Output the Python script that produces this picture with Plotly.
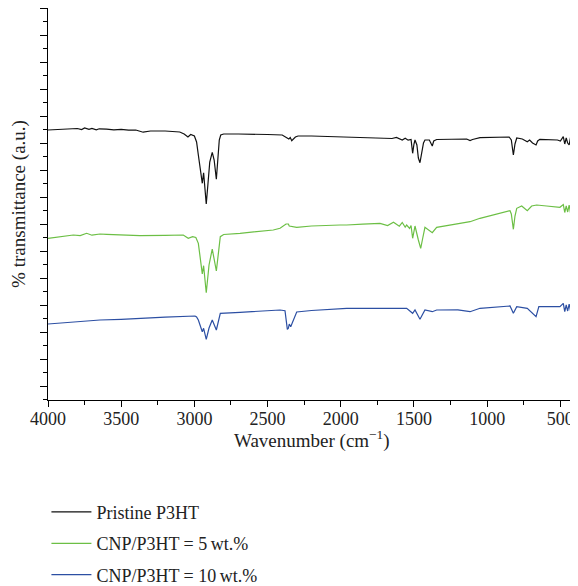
import plotly.graph_objects as go

# Wavenumber (cm^-1) and transmittance (a.u., offset traces)
pristine_wn = [4000, 3950, 3900, 3850, 3800, 3770, 3750, 3720, 3700, 3670, 3650, 3600, 3550, 3500, 3450,
               3400, 3350, 3300, 3200, 3100, 3070, 3044, 3025, 3000, 2985, 2973, 2955, 2946, 2937,
               2928, 2919, 2908, 2895, 2878, 2865, 2850, 2840, 2830, 2820, 2800, 2700, 2600, 2500,
               2400, 2367, 2355, 2345, 2335, 2310, 2292, 2200, 2100, 2000, 1900, 1800, 1700, 1650,
               1620, 1600, 1580, 1560, 1540, 1520, 1509, 1500, 1493, 1480, 1470, 1459, 1448, 1435,
               1425, 1395, 1375, 1365, 1345, 1200, 1140, 1117, 1100, 1049, 1000, 900, 850, 835,
               821, 810, 798, 760, 740, 726, 710, 690, 666, 655, 640, 550, 520, 500, 480, 470,
               460, 450, 440, 430, 420, 410, 400]
pristine_t = [270, 270.3, 270.8, 271.2, 271.5, 270.4, 272, 270.6, 271.6, 270.2, 271.2, 270.8, 270.2, 270.6, 269.8,
              270, 267.8, 269, 269, 268, 266, 263, 265.5, 264, 258, 245, 225, 216.7, 227.3,
              210, 196, 215, 238, 247.7, 240, 220.7, 240, 260, 265, 266, 266, 266, 265.5,
              265, 262, 261, 262.5, 259.3, 263, 264, 264, 263.5, 263.3, 262.5, 262, 261.7, 261.5,
              262.5, 261.5, 260, 261.8, 259.8, 260.5, 246.7, 256, 260, 255, 242, 237.3, 245, 257,
              260, 260, 254, 259, 260.5, 261, 261, 259.5, 260.5, 262.3, 262.5, 263, 263, 260,
              245, 256, 262, 261, 259.5, 258.3, 260, 257, 255, 259, 260.7, 260.7, 260, 259, 263.3, 256,
              262, 257, 255, 263, 256, 261, 259]

cnp5_wn = [4000, 3950, 3900, 3827, 3780, 3736, 3700, 3645, 3600, 3500, 3372, 3200, 3076, 3042, 3012,
           2990, 2973, 2946, 2937, 2919, 2900, 2878, 2850, 2823, 2800, 2688, 2461, 2415, 2374,
           2358, 2352, 2301, 2200, 2005, 1960, 1850, 1732, 1680, 1640, 1600, 1580, 1560, 1550,
           1530, 1520, 1509, 1493, 1470, 1454, 1440, 1425, 1375, 1345, 1186, 1117, 1049, 935,
           844, 835, 821, 810, 798, 764, 726, 696, 662, 594, 503, 480, 470, 460, 450, 440,
           430, 420, 410, 400]
cnp5_t = [161.7, 162.8, 163.8, 165, 164.4, 166.7, 164.8, 166, 165.6, 164.8, 164.3, 164.6, 165, 161.7, 163.3,
          162.5, 156.7, 126, 134.3, 107.3, 135, 151, 129, 163.3, 165.5, 166.7, 170, 171.7, 176,
          176, 174, 172.7, 174, 175, 175, 175.8, 176.7, 174.5, 177.8, 173.8, 177.5, 172.8, 175,
          171.6, 174.5, 161.7, 174, 160, 151.7, 162, 172.7, 167.3, 172.7, 176.7, 178.3, 181.7, 186,
          189.3, 186, 170.7, 184, 191.7, 194, 189.3, 194, 195, 194, 192.7, 195.5, 187.5, 194,
          188, 195, 186.5, 192, 188.3, 190]

cnp10_wn = [4000, 3900, 3827, 3750, 3645, 3500, 3372, 3200, 2996, 2985, 2973, 2946, 2937, 2919, 2900,
            2878, 2850, 2823, 2688, 2415, 2381, 2365, 2358, 2352, 2342, 2301, 2200, 2005, 1960,
            1750, 1550, 1509, 1493, 1459, 1425, 1375, 1345, 1200, 1117, 1049, 900, 844, 821,
            798, 726, 666, 647, 503, 480, 470, 460, 450, 440, 430, 420, 410, 400]
cnp10_t = [76, 77.2, 78.3, 79.2, 80, 80.6, 81.7, 82.8, 84, 83, 80, 68.3, 71.7, 60.7, 72,
           80, 70, 86.7, 87.7, 90, 89.3, 70.7, 71.7, 76, 73.3, 88, 89.5, 91, 91.7,
           91.7, 91.7, 86.7, 90, 80.7, 90, 88.3, 90, 90.2, 88.3, 91.7, 93.2, 94, 86.7,
           93.3, 91.7, 83.3, 93.3, 93.3, 96.7, 88.3, 95, 89, 96, 88.8, 94.5, 90, 91.7]

names = ["Pristine P3HT", "CNP/P3HT = 5\u2009wt.%", "CNP/P3HT = 10\u2009wt.%"]
colors = ["#111111", "#6cbf45", "#2c4fa3"]
series = [(pristine_wn, pristine_t), (cnp5_wn, cnp5_t), (cnp10_wn, cnp10_t)]

x_ticks = [4000, 3500, 3000, 2500, 2000, 1500, 1000, 500]
x_title = "Wavenumber (cm<sup>\u22121</sup>)"
y_title = "% transmittance (a.u.)"

FONT = "Liberation Serif"
TXT = "#222222"

fig = go.Figure()
for i, ((wn, t), name, col) in enumerate(zip(series, names, colors)):
    fig.add_trace(go.Scatter(x=wn, y=t, mode="lines", name=name, legendgroup=f"g{i}",
                             line=dict(color=col, width=1.2)))

# The page body adds an 8 px offset, so the figure is 8 px smaller than the window.
fig.update_layout(
    width=570, height=578,
    margin=dict(l=40, r=3, t=0, b=186, autoexpand=False),
    plot_bgcolor="white", paper_bgcolor="white",
    font=dict(family=FONT, size=17, color=TXT),
    showlegend=True,
    legend=dict(x=-0.003, xanchor="left", y=-0.239, yanchor="top",
                font=dict(family=FONT, size=18, color=TXT),
                itemwidth=40, tracegroupgap=5, bgcolor="rgba(0,0,0,0)"),
    xaxis=dict(range=[4000, 400], autorange=False, tickvals=x_ticks, automargin=False,
               ticks="outside", ticklen=6, tickwidth=1.2, tickcolor="black",
               ticklabelstandoff=-4,
               minor=dict(dtick=250, tick0=0, ticks="outside", ticklen=4, tickwidth=1.2, tickcolor="black"),
               showline=True, linecolor="black", linewidth=1.2, showgrid=False, zeroline=False,
               tickfont=dict(family=FONT, size=18, color=TXT)),
    yaxis=dict(range=[0, 392], autorange=False, tick0=14, dtick=27, showticklabels=False, automargin=False,
               ticks="outside", ticklen=7, tickwidth=1.2, tickcolor="black",
               minor=dict(tick0=0.5, dtick=13.5, ticks="outside", ticklen=4, tickwidth=1.2, tickcolor="black"),
               showline=True, linecolor="black", linewidth=1.2, showgrid=False, zeroline=False,
               title=dict(text=y_title, font=dict(family=FONT, size=19, color=TXT), standoff=14)),
    annotations=[dict(text=x_title, xref="paper", yref="paper", x=0.5, y=-0.1,
                      xanchor="center", yanchor="middle", showarrow=False,
                      font=dict(family=FONT, size=19, color=TXT))],
)

fig.write_html("out.html")
